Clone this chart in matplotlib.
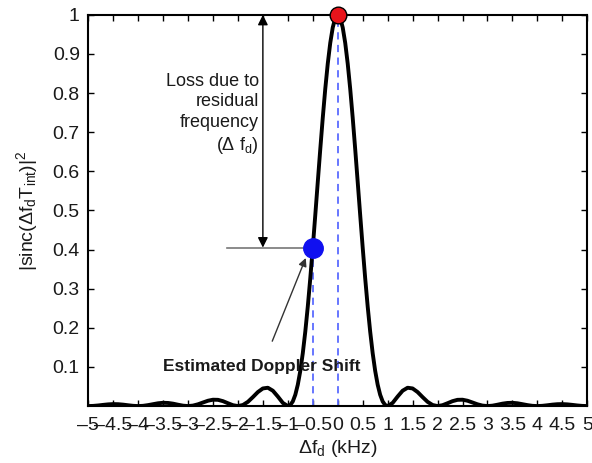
import numpy as np
import matplotlib
matplotlib.use("Agg")
import matplotlib.pyplot as plt

plt.rcParams['font.family'] = ['Liberation Sans', 'DejaVu Sans']
plt.rcParams['mathtext.default'] = 'regular'

# frequency offset (kHz) for the x >= 0 half; the curve is symmetric about 0
half_x = [0.0, 0.05, 0.1, 0.15, 0.2, 0.25, 0.3, 0.35, 0.4, 0.45, 0.5, 0.55, 0.6, 0.65,
          0.7, 0.75, 0.8, 0.85, 0.9, 0.95, 1.0,
          1.1, 1.2, 1.3, 1.4, 1.5, 1.6, 1.7, 1.8, 1.9, 2.0,
          2.1, 2.2, 2.3, 2.4, 2.5, 2.6, 2.7, 2.8, 2.9, 3.0,
          3.1, 3.2, 3.3, 3.4, 3.5, 3.6, 3.7, 3.8, 3.9, 4.0,
          4.1, 4.2, 4.3, 4.4, 4.5, 4.6, 4.7, 4.8, 4.9, 5.0]
# |sinc(df*Tint)|^2 values
half_y = [1.0, 0.9918, 0.9675, 0.9281, 0.8751, 0.8106, 0.7368, 0.6566, 0.5728, 0.4881,
          0.4053, 0.3267, 0.2546, 0.1904, 0.1353, 0.0901, 0.0547, 0.0289, 0.0119, 0.0027,
          0.0,
          0.0080, 0.0243, 0.0392, 0.0468, 0.0450, 0.0358, 0.0229, 0.0108, 0.0027, 0.0,
          0.0022, 0.0072, 0.0125, 0.0159, 0.0162, 0.0136, 0.0091, 0.0045, 0.0012, 0.0,
          0.0010, 0.0034, 0.0061, 0.0079, 0.0083, 0.0071, 0.0048, 0.0024, 0.0006, 0.0,
          0.0006, 0.0020, 0.0036, 0.0047, 0.0050, 0.0043, 0.0030, 0.0015, 0.0004, 0.0]

freq_khz = [-v for v in half_x[::-1]] + half_x[1:]
power = half_y[::-1] + half_y[1:]

peak_x, peak_y = 0.0, 1.0
est_x, est_y = -0.5, 0.405

xticks = [round(-5 + 0.5 * i, 1) for i in range(21)]
xticklabels = ['\u2013' + ('%g' % abs(v)) if v < 0 else '%g' % v for v in xticks]
yticks = [0.1, 0.2, 0.3, 0.4, 0.5, 0.6, 0.7, 0.8, 0.9, 1]
yticklabels = ['0.1', '0.2', '0.3', '0.4', '0.5', '0.6', '0.7', '0.8', '0.9', '1']

txt = '#1a1a1a'
fig = plt.figure(figsize=(5.92, 4.63), dpi=100)
ax = fig.add_axes([0.149, 0.123, 0.843, 0.845])

dash_color = '#5a6bff'
ax.plot([est_x, est_x], [0, est_y], ls=(0, (4, 3)), color=dash_color, lw=1.3, zorder=2)
ax.plot([peak_x, peak_x], [0, peak_y], ls=(0, (4, 3)), color=dash_color, lw=1.3, zorder=2)

ax.plot(freq_khz, power, color='black', lw=2.8, zorder=3, solid_joinstyle='round')

ax.plot([peak_x], [peak_y], 'o', ms=12, mfc='#e8141b', mec='black', mew=1.0, zorder=5, clip_on=False)
ax.plot([est_x], [est_y], 'o', ms=14, mfc='#1010f0', mec='#1010f0', zorder=5)

# horizontal reference line to blue point
ax.plot([-2.22, est_x], [est_y, est_y], color='#777777', lw=1.2, zorder=2)

# double arrow
ax.annotate('', xy=(-1.5, 1.0), xytext=(-1.5, est_y),
            arrowprops=dict(arrowstyle='<|-|>', color='black', lw=1.0,
                            mutation_scale=15, shrinkA=0, shrinkB=0), zorder=4)

ax.text(-1.58, 0.852, 'Loss due to\nresidual\nfrequency\n(\u0394 f$_d$)', ha='right', va='top',
        fontsize=13, linespacing=1.27, color=txt)

ax.annotate('Estimated Doppler Shift', xy=(-0.62, 0.385), xytext=(-1.52, 0.1),
            ha='center', va='center', fontsize=12.5, fontweight='bold', color=txt,
            arrowprops=dict(arrowstyle='-|>', color='#333333', lw=1.0,
                            mutation_scale=12, shrinkA=12, shrinkB=2), zorder=4)

ax.set_xlim(-5, 5)
ax.set_ylim(0, 1)
ax.set_xticks(xticks)
ax.set_xticklabels(xticklabels)
ax.set_yticks(yticks)
ax.set_yticklabels(yticklabels)
ax.tick_params(direction='in', top=True, right=True, labelsize=14, length=4, width=1,
               pad=6, labelcolor=txt)
ax.tick_params(axis='x', pad=8)
for s in ax.spines.values():
    s.set_linewidth(1.5)

ax.set_xlabel('\u0394f$_d$ (kHz)', fontsize=14, labelpad=3, color=txt)
ax.set_ylabel('|sinc(\u0394f$_d$T$_{int}$)|$^2$', fontsize=14, labelpad=9, color=txt)

fig.savefig('out.png', dpi=100)
